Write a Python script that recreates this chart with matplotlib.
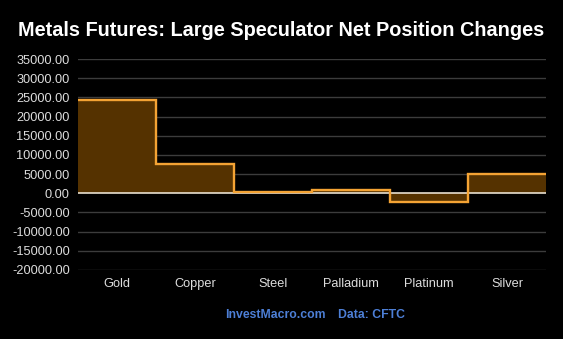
import numpy as np
import matplotlib.pyplot as plt

categories = ["Gold", "Copper", "Steel", "Palladium", "Platinum", "Silver"]
net_changes = [24300, 7650, 420, 780, -2190, 5120]
y_ticks = [-20000, -15000, -10000, -5000, 0, 5000, 10000, 15000, 20000, 25000, 30000, 35000]

plt.rcParams["font.family"] = ["Liberation Sans", "DejaVu Sans"]

fig = plt.figure(figsize=(5.63, 3.39), dpi=100, facecolor="black")
ax = fig.add_axes([78 / 563, 1 - 270 / 339, (546 - 78) / 563, (270 - 59) / 339])
ax.set_facecolor("black")

edges = np.arange(len(categories) + 1) - 0.5
ax.stairs(net_changes, edges, baseline=0, fill=True, color="#553200", zorder=2)
ax.stairs(net_changes, edges, baseline=None, color="#f4a334", linewidth=1.7, zorder=4)

ax.set_xlim(edges[0], edges[-1])
ax.set_ylim(-20000, 35000)
ax.set_yticks(y_ticks)
ax.set_yticklabels([f"{v:.2f}" for v in y_ticks])
ax.set_xticks(range(len(categories)))
ax.set_xticklabels(categories)
ax.tick_params(colors="#dddddd", labelsize=9.2, length=0)
ax.tick_params(axis="y", pad=6)
ax.tick_params(axis="x", pad=6)

for v in y_ticks:
    if v == 0:
        continue
    ax.axhline(v, color="#3c3c3c", linewidth=1, zorder=1)
ax.axhline(0, color="#e8e0d0", linewidth=1.2, zorder=3)

for s in ax.spines.values():
    s.set_visible(False)

fig.text(0.5, 1 - 30 / 339, "Metals Futures: Large Speculator Net Position Changes",
         color="white", fontsize=14.3, fontweight="bold", ha="center", va="center")
fig.text(225 / 563, 1 - 315 / 339, "InvestMacro.com",
         color="#4d7fd6", fontsize=8.8, fontweight="bold", ha="left", va="center")
fig.text(338 / 563, 1 - 315 / 339, "Data: CFTC",
         color="#4d7fd6", fontsize=8.8, fontweight="bold", ha="left", va="center")

fig.savefig("out.png", dpi=100, facecolor="black")
